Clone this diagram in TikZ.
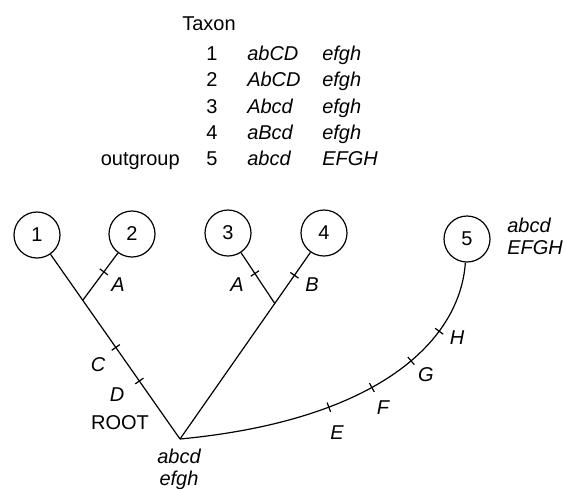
\documentclass[tikz,border=0pt]{standalone}
\usepackage{fontspec}
\setmainfont{Liberation Sans}
\usetikzlibrary{calc}
\newcommand{\tickbar}{\rule{0.6pt}{5pt}}
\begin{document}
\begin{tikzpicture}[x=0.5pt, y=-0.5pt, line width=0.6pt,
  every node/.style={font=\fontsize{10}{11}\selectfont},
  taxon/.style={draw,circle,minimum size=23pt,inner sep=0pt},
  tickmk/.style={sloped,inner sep=0pt,outer sep=0pt},
  charlab/.style={font=\fontsize{10}{11}\selectfont\itshape}]
\useasboundingbox (0,0) rectangle (566,488);
% character table
\node[anchor=base] (tax) at (209,30) {Taxon};
\node[anchor=base] (n1) at (212,60) {1};
\node[anchor=base west,charlab] (g1) at (240,60) {abCD};
\node[anchor=base west,charlab] (h1) at (315,60) {efgh};
\node[anchor=base] (n2) at (212,86.5) {2};
\node[anchor=base west,charlab] (g2) at (240,86.5) {AbCD};
\node[anchor=base west,charlab] (h2) at (315,86.5) {efgh};
\node[anchor=base] (n3) at (212,113) {3};
\node[anchor=base west,charlab] (g3) at (240,113) {Abcd};
\node[anchor=base west,charlab] (h3) at (315,113) {efgh};
\node[anchor=base] (n4) at (212,139) {4};
\node[anchor=base west,charlab] (g4) at (240,139) {aBcd};
\node[anchor=base west,charlab] (h4) at (315,139) {efgh};
\node[anchor=base east] (outg) at (187,165) {outgroup};
\node[anchor=base] (n5) at (212,165) {5};
\node[anchor=base west,charlab] (g5) at (240,165) {abcd};
\node[anchor=base west,charlab] (h5) at (315,165) {EFGH};
% tree
\node[taxon] (c1) at (37,235) {1};
\node[taxon] (c2) at (132,234) {2};
\node[taxon] (c3) at (228,233) {3};
\node[taxon] (c4) at (324,233) {4};
\node[taxon] (c5) at (467,239) {5};
\coordinate (root) at (180,439);
\coordinate (j1) at ($(root)!0.68!(c1)$);
\coordinate (j2) at ($(root)!0.658!(c4)$);
\draw (root) -- (c1) node[tickmk,pos=0.314] (tD) {\tickbar} node[tickmk,pos=0.496] (tC) {\tickbar};
\draw (j1) -- (c2) node[tickmk,pos=0.6] (tA1) {\tickbar};
\draw (root) -- (c4) node[tickmk,pos=0.877] (tB) {\tickbar};
\draw (j2) -- (c3) node[tickmk,pos=0.59] (tA2) {\tickbar};
\draw (root) .. controls (380,420) and (460,340) .. (c5)
  node[tickmk,pos=0.3] (tE) {\tickbar} node[tickmk,pos=0.42] (tF) {\tickbar}
  node[tickmk,pos=0.56] (tG) {\tickbar} node[tickmk,pos=0.7] (tH) {\tickbar};
% labels
\node[charlab] (lA1) at (118,285) {A};
\node[charlab] (lA2) at (237,285) {A};
\node[charlab] (lB) at (312,285) {B};
\node[charlab] (lC) at (98,365) {C};
\node[charlab] (lD) at (117,395) {D};
\node[charlab] (lE) at (337,433) {E};
\node[charlab] (lF) at (383,408) {F};
\node[charlab] (lG) at (426,375) {G};
\node[charlab] (lH) at (457,338) {H};
\node (rootname) at (120,423) {ROOT};
\node[charlab,align=center] (rootstate) at (179,469) {abcd\\efgh};
\node[charlab,align=left,anchor=west] (outstate) at (500,236) {abcd\\EFGH};
\end{tikzpicture}
\end{document}
